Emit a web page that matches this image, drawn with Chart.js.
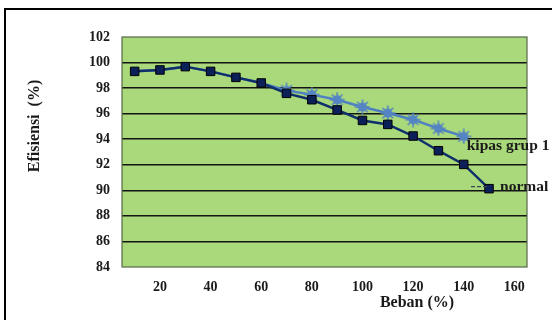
<!DOCTYPE HTML>
<html lang="id">
<head>
  <meta charset="utf-8" />
  <title>Efisiensi vs Beban</title>
  <script src="https://cdn.jsdelivr.net/npm/chart.js@4/dist/chart.umd.min.js"></script>
  <style>
    html, body { margin: 0; padding: 0; background: #fff; }
    #wrap { width: 552px; height: 320px; position: relative; }
  </style>
</head>
<body>
  <div id="wrap"><canvas id="grafik"></canvas></div>

  <script>
  // data
  const beban = [10, 20, 30, 40, 50, 60, 70, 80, 90, 100, 110, 120, 130, 140, 150];
  const normal = [99.31, 99.42, 99.68, 99.31, 98.84, 98.40, 97.59, 97.09, 96.29, 95.47, 95.16, 94.25, 93.10, 92.03, 90.13];
  const kipasGrup1 = [99.31, 99.42, 99.68, 99.31, 98.84, 98.40, 97.82, 97.49, 97.09, 96.52, 96.05, 95.53, 94.84, 94.22];
  const xTicks = [20, 40, 60, 80, 100, 120, 140, 160];
  const yTicks = [84, 86, 88, 90, 92, 94, 96, 98, 100, 102];

  const FONT = '"Liberation Serif", "Times New Roman", serif';
  const TEKS = '#1a1a1a';

  // marker bintang ala Excel (lingkaran + duri)
  function makeStar(col) {
    const c = document.createElement('canvas');
    c.width = 16; c.height = 16;
    const g = c.getContext('2d');
    g.strokeStyle = col; g.fillStyle = col; g.lineWidth = 1.6;
    for (let i = 0; i < 8; i++) {
      const a = i * Math.PI / 4;
      g.beginPath();
      g.moveTo(8, 8);
      g.lineTo(8 + Math.cos(a) * 7.5, 8 + Math.sin(a) * 7.5);
      g.stroke();
    }
    g.beginPath(); g.arc(8, 8, 4.5, 0, Math.PI * 2); g.fill();
    return c;
  }

  const toXY = (ys) => ys.map((v, i) => ({ x: beban[i], y: v }));

  // background hijau + border plot
  const plotBg = {
    id: 'plotBg',
    beforeDraw(chart) {
      const { ctx, chartArea: a } = chart;
      ctx.save();
      ctx.fillStyle = '#a9d97a';
      ctx.fillRect(a.left, a.top, a.right - a.left, a.bottom - a.top);
      ctx.restore();
    },
    beforeDatasetsDraw(chart) {
      const { ctx, chartArea: a } = chart;
      ctx.save();
      ctx.strokeStyle = '#55684a';
      ctx.lineWidth = 1.2;
      ctx.strokeRect(a.left, a.top, a.right - a.left, a.bottom - a.top);
      ctx.restore();
    }
  };

  // judul sumbu, label seri, bingkai luar
  const hiasan = {
    id: 'hiasan',
    afterDraw(chart) {
      const { ctx } = chart;
      const sx = chart.scales.x, sy = chart.scales.y;
      ctx.save();
      ctx.fillStyle = TEKS;
      ctx.font = 'bold 16px ' + FONT;
      ctx.textAlign = 'center';
      ctx.textBaseline = 'middle';
      ctx.fillText('Beban (%)', 417, 303);

      ctx.translate(35, 126);
      ctx.rotate(-Math.PI / 2);
      ctx.fillText('Efisiensi  (%)', 0, 0);
      ctx.restore();

      // label nama seri di ujung garis
      ctx.save();
      ctx.font = 'bold 15.5px ' + FONT;
      ctx.fillStyle = TEKS;
      ctx.textAlign = 'left';
      ctx.textBaseline = 'middle';
      const kx = sx.getPixelForValue(beban[kipasGrup1.length - 1]);
      const ky = sy.getPixelForValue(kipasGrup1[kipasGrup1.length - 1]);
      ctx.fillText('kipas grup 1', kx + 3, ky + 10);

      const nx = sx.getPixelForValue(beban[normal.length - 1]);
      const ny = sy.getPixelForValue(normal[normal.length - 1]);
      ctx.strokeStyle = '#3a4656';
      ctx.lineWidth = 1.2;
      ctx.setLineDash([4, 2]);
      ctx.beginPath();
      ctx.moveTo(nx - 18, ny - 2);
      ctx.lineTo(nx, ny - 2);
      ctx.stroke();
      ctx.setLineDash([]);
      ctx.fillText('normal', nx + 11, ny - 2);
      ctx.restore();

      // bingkai chart (kanan & bawah terpotong)
      ctx.save();
      ctx.strokeStyle = '#000';
      ctx.lineWidth = 2;
      ctx.strokeRect(5, 9, 560, 330);
      ctx.restore();
    }
  };

  new Chart(document.getElementById('grafik'), {
    type: 'line',
    data: {
      datasets: [
        {
          label: 'normal',
          data: toXY(normal),
          borderColor: '#0f2f6a',
          borderWidth: 2.5,
          pointStyle: 'rect',
          pointRadius: 6,
          pointHoverRadius: 6,
          pointBackgroundColor: '#0b2058',
          pointBorderColor: '#000',
          pointBorderWidth: 1,
          tension: 0
        },
        {
          label: 'kipas grup 1',
          data: toXY(kipasGrup1),
          borderColor: '#4f80c0',
          borderWidth: 2.5,
          pointStyle: makeStar('#5584c2'),
          // bintang di bawah kotak normal tidak kelihatan di gambar
          pointRadius: kipasGrup1.map((v, i) => v === normal[i] ? 0 : 6),
          tension: 0
        }
      ]
    },
    options: {
      responsive: true,
      maintainAspectRatio: false,
      animation: false,
      events: [],
      layout: { padding: { top: 37, right: 25, left: 0, bottom: 0 } },
      plugins: { legend: { display: false }, tooltip: { enabled: false } },
      scales: {
        x: {
          type: 'linear',
          min: 5, max: 165,
          afterBuildTicks: (s) => { s.ticks = xTicks.map(v => ({ value: v })); },
          afterFit: (s) => { s.height = 53; },
          grid: { display: false, drawTicks: false },
          border: { display: false },
          ticks: { color: TEKS, padding: 12, maxRotation: 0, font: { family: FONT, size: 14, weight: 'bold' } }
        },
        y: {
          min: 84, max: 102,
          afterBuildTicks: (s) => { s.ticks = yTicks.map(v => ({ value: v })); },
          afterFit: (s) => { s.width = 122; },
          grid: {
            drawTicks: false,
            lineWidth: 1.5,
            color: (c) => (c.tick && (c.tick.value === 84 || c.tick.value === 102)) ? 'rgba(0,0,0,0)' : '#141414'
          },
          border: { display: false },
          ticks: { color: TEKS, padding: 12, font: { family: FONT, size: 14, weight: 'bold' } }
        }
      }
    },
    plugins: [plotBg, hiasan]
  });
  </script>
</body>
</html>
